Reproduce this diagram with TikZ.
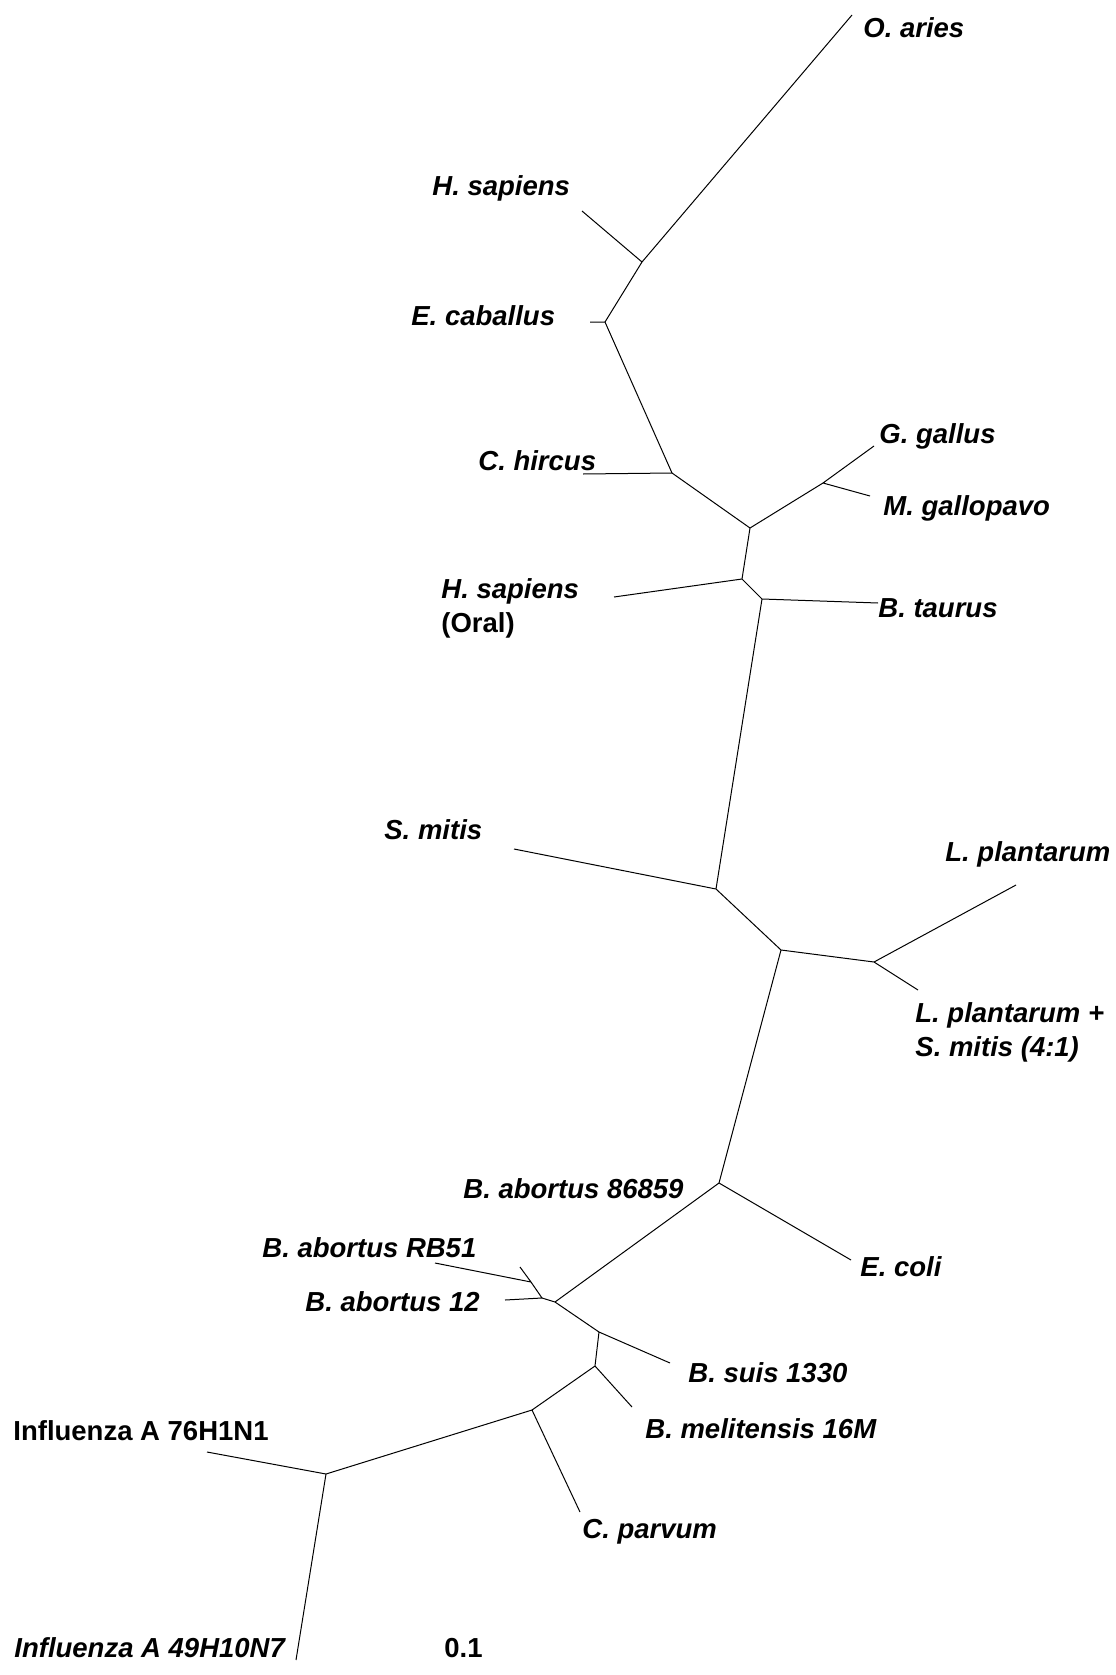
\documentclass[tikz,border=0pt]{standalone}
\usepackage{fontspec}
\setmainfont{Liberation Sans}
\tikzset{
  branch/.style={line width=0.5pt, black},
  taxon/.style={anchor=base west, inner sep=0pt, font=\fontsize{13.75}{17}\selectfont\bfseries\itshape},
  taxon upright/.style={taxon, font=\fontsize{13.75}{17}\selectfont\bfseries},
  taxon twoline/.style={anchor=north west, inner sep=0pt, align=left, font=\fontsize{13.75}{17}\selectfont\bfseries\itshape},
}

\begin{document}
\begin{tikzpicture}[x=0.5pt,y=-0.5pt]
    \useasboundingbox (0,0) rectangle (1115,1675);
    % inner nodes
    \coordinate (na) at (642,262);
    \coordinate (nq) at (605,322);
    \coordinate (nr) at (672,473);
    \coordinate (nb) at (750,528);
    \coordinate (ns) at (823,483);
    \coordinate (nc) at (742,579);
    \coordinate (nd) at (762,599);
    \coordinate (ne) at (716,889);
    \coordinate (nf) at (781,950);
    \coordinate (ng) at (874,962);
    \coordinate (nh) at (719,1183);
    \coordinate (ni) at (555,1302);
    \coordinate (nk) at (542,1298);
    \coordinate (nl) at (531,1282);
    \coordinate (nm) at (599,1332);
    \coordinate (nn) at (595,1366);
    \coordinate (no) at (532,1410);
    \coordinate (np) at (326,1474);
    % tips
    \coordinate (oaries) at (852,15);
    \coordinate (hsap) at (582,211);
    \coordinate (ecab) at (590,322);
    \coordinate (chir) at (583,474);
    \coordinate (ggal) at (874,446);
    \coordinate (mgal) at (870,496);
    \coordinate (oral) at (614,597);
    \coordinate (btau) at (878,603);
    \coordinate (smit) at (514,849);
    \coordinate (lpla) at (1016,885);
    \coordinate (lpsm) at (918,990);
    \coordinate (ecol) at (851,1260);
    \coordinate (bab12) at (505,1300);
    \coordinate (brb51) at (435,1263);
    \coordinate (bab86) at (520,1267);
    \coordinate (bsuis) at (670,1363);
    \coordinate (bmel) at (632,1407);
    \coordinate (cpar) at (580,1512);
    \coordinate (inf76) at (207,1452);
    \coordinate (inf49) at (296,1660);

    \draw[branch] (na) -- (oaries) (na) -- (hsap) (na) -- (nq) (nq) -- (ecab)
      (nq) -- (nr) (nr) -- (chir) (nr) -- (nb) (nb) -- (ns) (ns) -- (ggal) (ns) -- (mgal)
      (nb) -- (nc) (nc) -- (oral) (nc) -- (nd) (nd) -- (btau) (nd) -- (ne) (ne) -- (smit)
      (ne) -- (nf) (nf) -- (ng) (ng) -- (lpla) (ng) -- (lpsm) (nf) -- (nh) (nh) -- (ecol)
      (nh) -- (ni) (ni) -- (nk) (nk) -- (bab12) (nk) -- (nl) (nl) -- (brb51) (nl) -- (bab86)
      (ni) -- (nm) (nm) -- (bsuis) (nm) -- (nn) (nn) -- (bmel) (nn) -- (no) (no) -- (cpar)
      (no) -- (np) (np) -- (inf76) (np) -- (inf49);

    \node[taxon] (loaries) at (863,38) {O. aries};
    \node[taxon] (lhsap) at (432,195) {H. sapiens};
    \node[taxon] (lecab) at (411,325) {E. caballus};
    \node[taxon] (lchir) at (478,470) {C. hircus};
    \node[taxon] (lggal) at (879,443) {G. gallus};
    \node[taxon] (lmgal) at (883,515) {M. gallopavo};
    \node[taxon twoline] (loral) at (441,578) {H. sapiens\\\upshape(Oral)};
    \node[taxon] (lbtau) at (878,617) {B. taurus};
    \node[taxon] (lsmit) at (384,839) {S. mitis};
    \node[taxon] (llpla) at (945,861) {L. plantarum};
    \node[taxon twoline] (llpsm) at (915,1002) {L. plantarum +\\S. mitis (4:1)};
    \node[taxon] (lbab86) at (463,1198) {B. abortus 86859};
    \node[taxon] (lecol) at (860,1276) {E. coli};
    \node[taxon] (lbrb51) at (262,1257) {B. abortus RB51};
    \node[taxon] (lbab12) at (305,1311) {B. abortus 12};
    \node[taxon] (lbsuis) at (688,1382) {B. suis 1330};
    \node[taxon] (lbmel) at (645,1438) {B. melitensis 16M};
    \node[taxon upright] (linf76) at (13,1440) {Influenza A 76H1N1};
    \node[taxon] (lcpar) at (582,1538) {C. parvum};
    \node[taxon] (linf49) at (14,1657) {Influenza A 49H10N7};
    \node[taxon upright] (lscale) at (444,1657) {0.1};
\end{tikzpicture}
\end{document}
